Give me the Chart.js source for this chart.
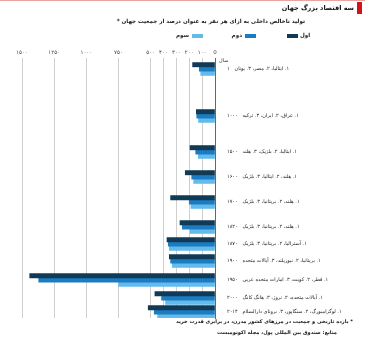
<!DOCTYPE html>
<html>
<head>
<meta charset="utf-8">
<script src="https://cdn.jsdelivr.net/npm/chart.js@4"></script>
<style>
  body { margin: 0; background: #fff; }
</style>
</head>
<body>
<canvas id="economyChart" width="365" height="359" dir="rtl"></canvas>
<script>
/* سه اقتصاد بزرگ جهان */

const years = ['۱', '۱۰۰۰', '۱۵۰۰', '۱۶۰۰', '۱۷۰۰', '۱۸۲۰', '۱۸۷۰', '۱۹۰۰', '۱۹۵۰', '۲۰۰۰', '۲۰۱۴'];
const countries = [
  '۱. ایتالیا، ۲. مصر، ۳. یونان',
  '۱. عراق، ۲. ایران، ۳. ترکیه',
  '۱. ایتالیا، ۲. بلژیک، ۳. هلند',
  '۱. هلند، ۲. ایتالیا، ۳. بلژیک',
  '۱. هلند، ۲. بریتانیا، ۳. بلژیک',
  '۱. هلند، ۲. بریتانیا، ۳. بلژیک',
  '۱. آسترالیا، ۲. بریتانیا، ۳. بلژیک',
  '۱. بریتانیا، ۲. نیوزیلند، ۳. آیالات متحده',
  '۱. قطر، ۲. کویت، ۳. امارات متحده عربی',
  '۱. آیالات متحده، ۲. نروژ، ۳. هانگ کانگ',
  '۱. لوگزامبورگ، ۲. سنگاپور، ۳. برونای دارالسلام'
];
// row placement along the year axis (rows are unevenly spaced in the original)
const rowSlot = [1.1, 5.8, 9.4, 11.9, 14.4, 16.9, 18.6, 20.3, 22.2, 24.0, 25.4];

const firstValues = [174, 145, 194, 231, 345, 272, 373, 355, 1440, 467, 519];
const secondValues = [122, 142, 150, 181, 200, 254, 363, 345, 1370, 415, 472];
const thirdValues = [111, 128, 130, 166, 187, 194, 355, 332, 749, 384, 446];

const xTicks = [0, 100, 200, 300, 400, 500, 750, 1000, 1250, 1500];

const FONT = 'DejaVu Sans';

function faDigits(n) {
  if (n === 0) return '0';
  return String(n).replace(/[0-9]/g, d => '۰۱۲۳۴۵۶۷۸۹'[d]);
}

const rowLabels = years.map((y, i) => countries[i] + '   ' + y);

const colors = ['#113a57', '#1c7cc3', '#63bbec'];
const names = ['اول', 'دوم', 'سوم'];

function points(values) {
  return values.map((v, i) => ({ x: v, y: rowSlot[i] }));
}

const decor = {
  id: 'decor',
  afterDraw(chart) {
    const ctx = chart.ctx;
    const area = chart.chartArea;
    ctx.save();
    ctx.direction = 'rtl';
    // top rule and red marker
    ctx.fillStyle = '#eaa3a3';
    ctx.fillRect(0, 0, 365, 1);
    ctx.fillStyle = '#d3121c';
    ctx.fillRect(357, 2, 5, 12);

    ctx.textBaseline = 'middle';
    ctx.fillStyle = '#111';
    ctx.textAlign = 'right';
    ctx.font = 'bold 6.5px ' + FONT;
    ctx.fillText('سه اقتصاد بزرگ جهان', 354, 8);

    ctx.font = 'bold 5.6px ' + FONT;
    ctx.fillStyle = '#222';
    ctx.fillText('تولید ناخالص داخلی به ازای هر نفر به عنوان درصد از جمعیت جهان *', 305, 22);

    // legend
    ctx.font = 'bold 5.6px ' + FONT;
    ctx.textAlign = 'left';
    ctx.fillStyle = colors[0];
    ctx.fillRect(287, 34, 11, 4);
    ctx.fillStyle = '#222';
    ctx.fillText(names[0], 300, 36);
    ctx.textAlign = 'right';
    ctx.fillStyle = colors[1];
    ctx.fillRect(245, 34, 11, 4);
    ctx.fillStyle = '#222';
    ctx.fillText(names[1], 242, 36);
    ctx.fillStyle = colors[2];
    ctx.fillRect(192, 34, 11, 4);
    ctx.fillStyle = '#222';
    ctx.fillText(names[2], 189, 36);

    // axis caption
    ctx.textAlign = 'left';
    ctx.font = '5px ' + FONT;
    ctx.fillStyle = '#333';
    ctx.fillText('سال', area.right + 4, area.top + 3);

    // footnotes
    ctx.textAlign = 'right';
    ctx.font = 'bold 5.1px ' + FONT;
    ctx.fillStyle = '#222';
    ctx.fillText('* بازده تاریخی و جمعیت در مرزهای کشور مدرن، در برابری قدرت خرید', 353, 322);
    ctx.fillText('منابع: صندوق بین المللی پول، مجله اکونومیست', 337, 333);
    ctx.restore();
  }
};

const ctx = document.getElementById('economyChart');

new Chart(ctx, {
  type: 'bar',
  data: {
    datasets: [
      { label: names[0], data: points(firstValues), backgroundColor: colors[0] },
      { label: names[1], data: points(secondValues), backgroundColor: colors[1] },
      { label: names[2], data: points(thirdValues), backgroundColor: colors[2] }
    ]
  },
  options: {
    responsive: false,
    animation: false,
    indexAxis: 'y',
    barThickness: 4.3,
    layout: { padding: { left: 22, right: 0, top: 47, bottom: 41 } },
    plugins: {
      legend: { display: false },
      tooltip: { enabled: false }
    },
    scales: {
      x: {
        type: 'linear',
        position: 'top',
        reverse: true,
        min: 0,
        max: 1500,
        afterBuildTicks(scale) {
          scale.ticks = xTicks.map(v => ({ value: v }));
        },
        afterFit(scale) {
          scale.height = 11;
        },
        grid: {
          drawTicks: false,
          color: c => (c.tick && c.tick.value === 0 ? '#666' : '#cfcfcf')
        },
        border: { display: false },
        ticks: {
          autoSkip: false,
          maxRotation: 0,
          padding: 2,
          color: '#444',
          font: { family: FONT, size: 5.5 },
          callback: v => faDigits(v)
        }
      },
      y: {
        type: 'linear',
        position: 'right',
        reverse: true,
        offset: false,
        min: 0,
        max: 26.0,
        afterBuildTicks(scale) {
          scale.ticks = rowSlot.map(v => ({ value: v }));
        },
        afterFit(scale) {
          scale.width = 150;
        },
        grid: { display: false },
        border: { display: true, color: '#666', width: 1 },
        ticks: {
          autoSkip: false,
          padding: 4,
          color: '#222',
          font: { family: FONT, size: 5 },
          callback: (v, i) => rowLabels[i]
        }
      }
    }
  },
  plugins: [decor]
});
</script>
</body>
</html>
